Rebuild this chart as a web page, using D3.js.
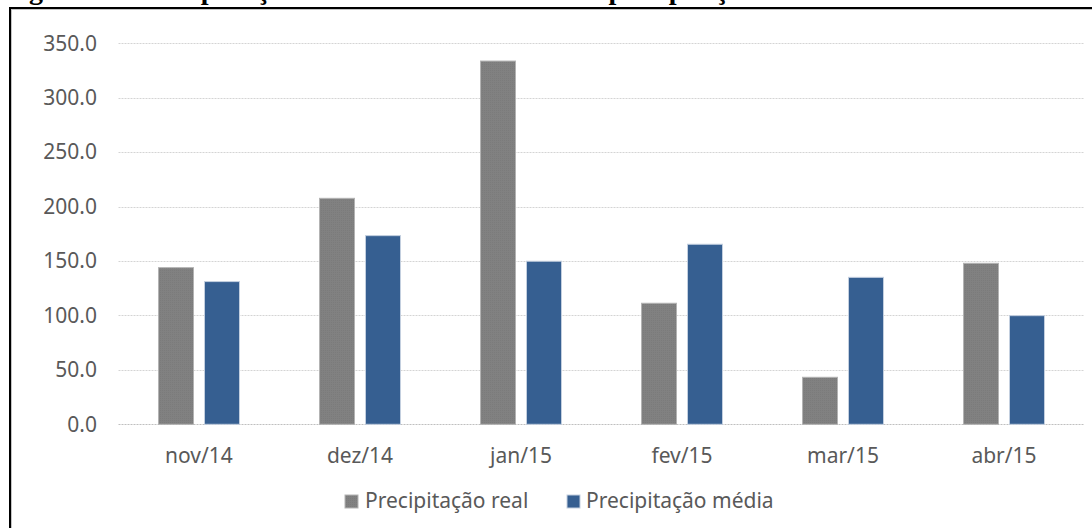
<!DOCTYPE html>
<html>
<head>
<meta charset="utf-8">
<script src="https://cdn.jsdelivr.net/npm/d3@7"></script>
<style>
  html, body { margin: 0; padding: 0; background: #fff; }
  svg { display: block; }
</style>
</head>
<body>
<svg id="chart" width="1092" height="528"></svg>
<script>
const categories = ["nov/14", "dez/14", "jan/15", "fev/15", "mar/15", "abr/15"];
const seriesNames = ["Precipitação real", "Precipitação média"];
const precipReal = [143.9, 207.6, 333.7, 111.2, 43.2, 147.9];
const precipMedia = [131.1, 173.3, 149.8, 165.4, 135.0, 99.8];
const yTicks = [0, 50, 100, 150, 200, 250, 300, 350];
const titleText = "Figura 10 - Comparação entre a chuva medida e a precipitação média mensal";

const colors = ["#7f7f7f", "#365f91"];
const strokes = ["#b3b3b3", "#c3cfdf"];
const textColor = "#595959";
const font = "'Noto Sans', 'Open Sans', sans-serif";

const svg = d3.select("#chart");

// fine texture for gray bars
const defs = svg.append("defs");
const pat = defs.append("pattern").attr("id", "grayTex")
  .attr("width", 2).attr("height", 2).attr("patternUnits", "userSpaceOnUse");
pat.append("rect").attr("width", 2).attr("height", 2).attr("fill", "#818181");
pat.append("rect").attr("width", 1).attr("height", 1).attr("fill", "#7b7b7b");

// title (clipped by the top edge, as in the reference)
svg.append("text")
  .attr("x", 4).attr("y", -1)
  .attr("font-family", "'Liberation Serif', 'DejaVu Serif', serif")
  .attr("font-weight", "bold")
  .attr("font-size", 28)
  .attr("fill", "#000")
  .text(titleText);

// frame
svg.append("line").attr("x1", 10).attr("x2", 1092).attr("y1", 8).attr("y2", 8)
  .attr("stroke", "#000").attr("stroke-width", 2);
svg.append("line").attr("x1", 10).attr("x2", 1092).attr("y1", 9.5).attr("y2", 9.5)
  .attr("stroke", "#c4c4c4").attr("stroke-width", 1);
svg.append("line").attr("x1", 10).attr("x2", 10).attr("y1", 7).attr("y2", 528)
  .attr("stroke", "#000").attr("stroke-width", 2);
svg.append("line").attr("x1", 11.5).attr("x2", 11.5).attr("y1", 9).attr("y2", 528)
  .attr("stroke", "#c4c4c4").attr("stroke-width", 1);

const x0 = d3.scaleBand().domain(categories).range([118.5, 1084.5]).padding(0);
const x1 = d3.scaleBand().domain(seriesNames).range([0, 82]).paddingInner(10 / 46).paddingOuter(0);
const y = d3.scaleLinear().domain([0, 350]).range([424.3, 43.3]);

// gridlines
const grid = svg.append("g");
grid.selectAll("line").data(yTicks).join("line")
  .attr("x1", 118.5).attr("x2", 1084.5)
  .attr("y1", d => Math.round(y(d)) + 0.5).attr("y2", d => Math.round(y(d)) + 0.5)
  .attr("stroke", d => d === 0 ? "#bfbfbf" : "#d4d4d4")
  .attr("stroke-width", 1)
  .attr("stroke-dasharray", "2,1");

// y axis labels
const yAxis = d3.axisLeft(y).tickValues(yTicks).tickFormat(d3.format(".1f")).tickSize(0).tickPadding(0);
const yg = svg.append("g").attr("transform", "translate(97,0)").call(yAxis);
yg.select(".domain").remove();
yg.selectAll("text").attr("font-family", font).attr("font-size", 21).attr("fill", textColor);

// bars
const data = categories.map((c, i) => ({ cat: c, vals: [precipReal[i], precipMedia[i]] }));
const groups = svg.append("g").selectAll("g").data(data).join("g")
  .attr("transform", d => `translate(${x0(d.cat) + x0.bandwidth() / 2 - 41},0)`);
groups.selectAll("rect").data(d => d.vals.map((v, j) => ({ v, s: seriesNames[j], j })))
  .join("rect")
  .attr("x", d => x1(d.s) + 0.5)
  .attr("width", x1.bandwidth() - 1)
  .attr("y", d => y(d.v))
  .attr("height", d => y(0) - y(d.v))
  .attr("fill", d => d.j === 0 ? "url(#grayTex)" : colors[1])
  .attr("stroke", d => strokes[d.j])
  .attr("stroke-width", 1);

// x axis labels
const xAxis = d3.axisBottom(x0).tickSize(0).tickPadding(0);
const xg = svg.append("g").attr("transform", "translate(0,444)").call(xAxis);
xg.select(".domain").remove();
xg.selectAll("text").attr("font-family", font).attr("font-size", 21).attr("fill", textColor)
  .attr("dy", "0.9em");

// legend
const legendItems = [
  { name: seriesNames[0], sx: 345, tx: 365 },
  { name: seriesNames[1], sx: 567, tx: 586 }
];
const lg = svg.append("g");
legendItems.forEach((it, i) => {
  lg.append("rect").attr("x", it.sx).attr("y", 495).attr("width", 13).attr("height", 13)
    .attr("fill", i === 0 ? "url(#grayTex)" : colors[1]).attr("stroke", strokes[i]);
  lg.append("text").attr("x", it.tx).attr("y", 508)
    .attr("font-family", font).attr("font-size", 21).attr("fill", textColor)
    .text(it.name);
});
</script>
</body>
</html>
